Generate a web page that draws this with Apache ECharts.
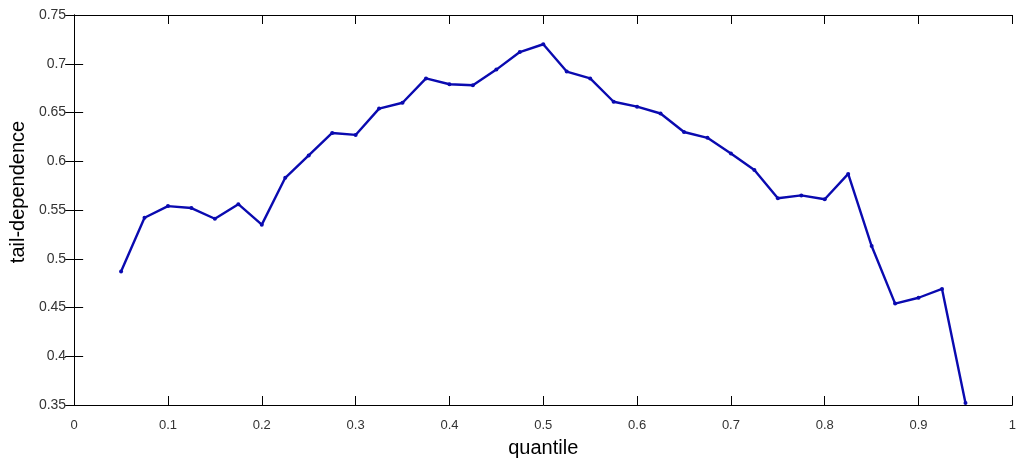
<!DOCTYPE html>
<html>
<head>
<meta charset="utf-8">
<script src="https://cdn.jsdelivr.net/npm/echarts@6/dist/echarts.min.js"></script>
<style>
  html, body { margin: 0; padding: 0; background: #fff; }
  #chart { width: 1019px; height: 463px; }
</style>
</head>
<body>
<div id="chart"></div>
<script>
// quantile levels and the tail-dependence estimate at each
const quantiles = [
  0.05, 0.075, 0.1, 0.125, 0.15, 0.175, 0.2, 0.225, 0.25, 0.275,
  0.3, 0.325, 0.35, 0.375, 0.4, 0.425, 0.45, 0.475, 0.5, 0.525,
  0.55, 0.575, 0.6, 0.625, 0.65, 0.675, 0.7, 0.725, 0.75, 0.775,
  0.8, 0.825, 0.85, 0.875, 0.9, 0.925, 0.95
]
const tailDep = [
  0.487, 0.542, 0.554, 0.552, 0.541, 0.556, 0.535, 0.583, 0.606, 0.629,
  0.627, 0.654, 0.660, 0.685, 0.679, 0.678, 0.694, 0.712, 0.720, 0.692,
  0.685, 0.661, 0.656, 0.649, 0.630, 0.624, 0.608, 0.591, 0.562, 0.565,
  0.561, 0.587, 0.513, 0.454, 0.460, 0.469, 0.352
]
const xTicks = [0, 0.1, 0.2, 0.3, 0.4, 0.5, 0.6, 0.7, 0.8, 0.9, 1]
const yTicks = [0.35, 0.4, 0.45, 0.5, 0.55, 0.6, 0.65, 0.7, 0.75]

const font = 'Liberation Sans, Arial, sans-serif'
const axisLine = { show: true, lineStyle: { color: '#000', width: 1 } }
const tick = { show: true, inside: true, length: 9, lineStyle: { color: '#000' } }

const chart = echarts.init(document.getElementById('chart'), null, { renderer: 'canvas' })
chart.setOption({
  animation: false,
  backgroundColor: '#fff',
  grid: { left: 74, right: 2, top: 15, bottom: 52 },
  xAxis: [
    {
      type: 'value',
      min: 0,
      max: 1,
      interval: 0.1,
      name: 'quantile',
      nameLocation: 'middle',
      nameGap: 33,
      nameTextStyle: { fontFamily: font, fontSize: 20, color: '#000' },
      axisLine,
      axisTick: tick,
      splitLine: { show: false },
      axisLabel: {
        fontFamily: font,
        fontSize: 13,
        color: '#333',
        margin: 14,
        formatter: (v) => (xTicks.includes(+v.toFixed(2)) ? String(+v.toFixed(2)) : '')
      }
    },
    {
      type: 'value',
      position: 'top',
      min: 0,
      max: 1,
      interval: 0.1,
      axisLine,
      axisTick: tick,
      axisLabel: { show: false },
      splitLine: { show: false }
    }
  ],
  yAxis: [
    {
      type: 'value',
      min: 0.35,
      max: 0.75,
      interval: 0.05,
      name: 'tail-dependence',
      nameLocation: 'middle',
      nameGap: 44,
      nameTextStyle: { fontFamily: font, fontSize: 20, color: '#000', padding: [0, 0, 0, 36] },
      axisLine,
      axisTick: tick,
      splitLine: { show: false },
      axisLabel: {
        fontFamily: font,
        fontSize: 14,
        color: '#333',
        margin: 8,
        formatter: (v) => (yTicks.includes(+v.toFixed(2)) ? String(+v.toFixed(2)) : '')
      }
    },
    {
      type: 'value',
      position: 'right',
      min: 0.35,
      max: 0.75,
      interval: 0.05,
      axisLine,
      axisTick: tick,
      axisLabel: { show: false },
      splitLine: { show: false }
    }
  ],
  series: [
    {
      type: 'line',
      data: quantiles.map((q, i) => [q, tailDep[i]]),
      symbol: 'circle',
      symbolSize: 4,
      lineStyle: { color: '#0a0ab0', width: 2.4 },
      itemStyle: { color: '#0a0ab0' },
      clip: false
    }
  ]
})
</script>
</body>
</html>
